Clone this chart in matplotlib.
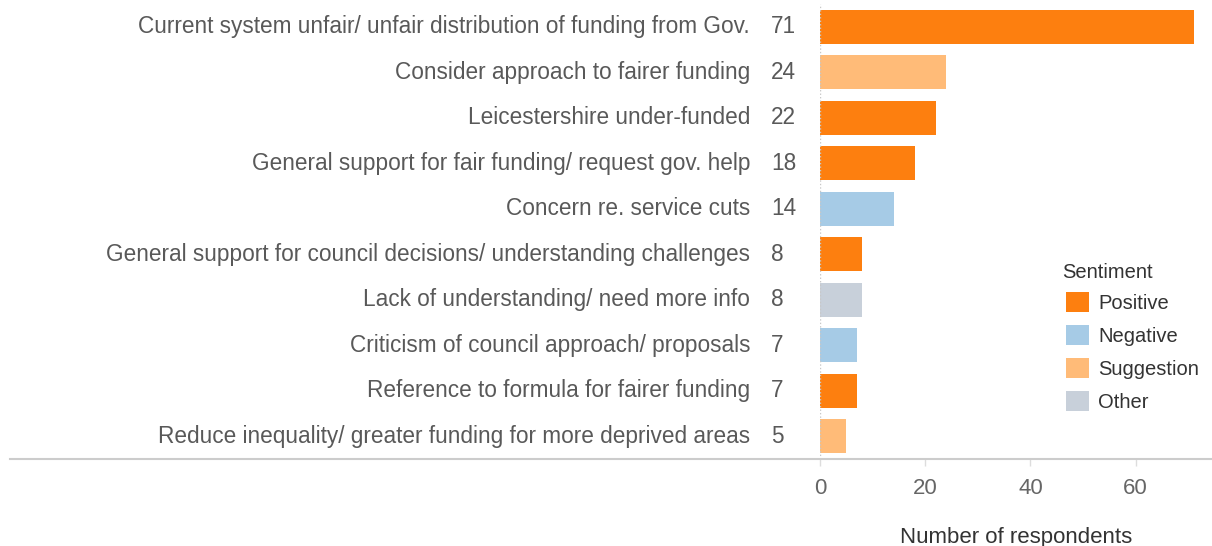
import matplotlib.pyplot as plt
from matplotlib.lines import Line2D
from matplotlib.patches import Patch

plt.rcParams['font.family'] = ['Liberation Sans', 'DejaVu Sans']

# data
themes = [
    "Current system unfair/ unfair distribution of funding from Gov.",
    "Consider approach to fairer funding",
    "Leicestershire under-funded",
    "General support for fair funding/ request gov. help",
    "Concern re. service cuts",
    "General support for council decisions/ understanding challenges",
    "Lack of understanding/ need more info",
    "Criticism of council approach/ proposals",
    "Reference to formula for fairer funding",
    "Reduce inequality/ greater funding for more deprived areas",
]
counts = [71, 24, 22, 18, 14, 8, 8, 7, 7, 5]
sentiment = ["Positive", "Suggestion", "Positive", "Positive", "Negative",
             "Positive", "Other", "Negative", "Positive", "Suggestion"]

colors = {
    "Positive": "#fd7f0f",
    "Negative": "#a6cbe6",
    "Suggestion": "#ffbb78",
    "Other": "#c8d0da",
}

W, H = 1212, 546
fig = plt.figure(figsize=(W / 100, H / 100), dpi=100)
ax = fig.add_axes([820 / W, 1 - 459 / H, 1 - 820 / W, (459 - 4) / H])

ypos = list(range(len(themes)))
ax.barh(ypos, counts, height=0.75, color=[colors[s] for s in sentiment])
ax.set_ylim(len(themes) - 0.5, -0.5)
ax.set_xlim(0, 74.5)

for y, t, c in zip(ypos, themes, counts):
    ax.annotate(t, xy=(0, y), xycoords=('axes fraction', 'data'),
                xytext=(-70, 0), textcoords='offset pixels',
                ha='right', va='center', fontsize=16.3, color='#595959')
    ax.annotate(str(c), xy=(0, y), xycoords=('axes fraction', 'data'),
                xytext=(-49, 0), textcoords='offset pixels',
                ha='left', va='center', fontsize=16.3, color='#595959')

# zero line
ax.axvline(0, color='#c8c8c8', lw=1, ls=(0, (1, 1.5)))

for s in ax.spines.values():
    s.set_visible(False)
ax.set_yticks([])
ax.set_xticks([0, 20, 40, 60])
ax.tick_params(axis='x', length=5, width=1, color='#dddddd',
               labelsize=16, labelcolor='#666666', pad=9)

fig.text((820 + W) / 2 / W, 1 - 537 / H, "Number of respondents",
         ha='center', va='center', fontsize=16, color='#333333')

# baseline across full width
fig.add_artist(Line2D([10 / W, 1], [1 - 459 / H, 1 - 459 / H],
                      color='#cccccc', lw=1.5))

# legend
fig.text(1062 / W, 1 - 273 / H, "Sentiment", ha='left', va='center',
         fontsize=14.5, color='#333333')
handles = [Patch(facecolor=colors[k], edgecolor='none') for k in colors]
leg = ax.legend(handles, list(colors.keys()),
                loc='upper left', bbox_to_anchor=(1048 / W, 1 - 274 / H),
                bbox_transform=fig.transFigure, frameon=False,
                fontsize=14.5, handlelength=1.15,
                handleheight=1.15, handletextpad=0.45, labelspacing=0.6)
for t in leg.get_texts():
    t.set_color('#333333')

fig.savefig("out.png", dpi=100)
